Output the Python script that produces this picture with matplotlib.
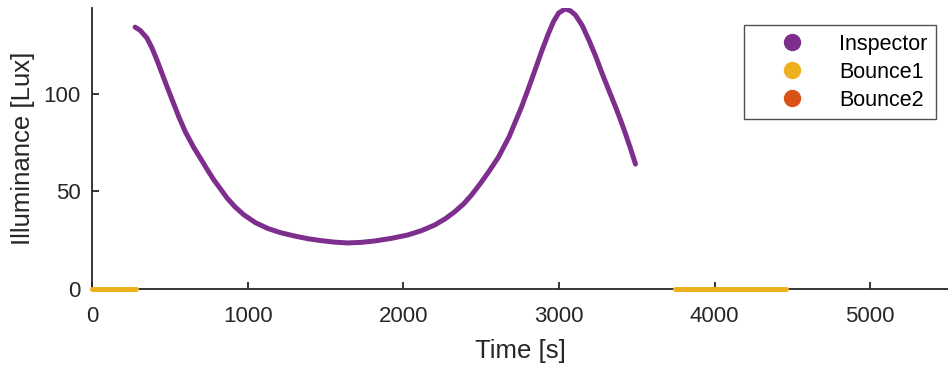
import numpy as np
import matplotlib
matplotlib.use('Agg')
import matplotlib.pyplot as plt
from matplotlib.lines import Line2D

plt.rcParams['font.family'] = ['Liberation Sans', 'DejaVu Sans']

# Inspector illuminance
inspector_t = [277, 310, 353, 385, 417, 482, 557, 600, 654, 708, 740, 782,
               830, 869, 920, 976, 1050, 1127, 1210, 1299, 1385, 1471, 1560,
               1643, 1730, 1815, 1920, 2030, 2120, 2202, 2270, 2331, 2390,
               2439, 2493, 2550, 2611, 2680, 2761, 2805, 2847, 2890, 2933,
               2965, 2998, 3041, 3075, 3105, 3150, 3192, 3235, 3277, 3320,
               3363, 3395, 3428, 3460, 3492]
inspector_lux = [134.2, 132.5, 128.6, 123.6, 117.4, 103.7, 88.4, 80.5, 72.5,
                 65.5, 61.3, 56.0, 50.8, 46.5, 42.0, 38.0, 34.0, 31.1, 28.9,
                 27.2, 25.8, 24.8, 24.0, 23.6, 23.9, 24.6, 25.9, 27.7, 30.0,
                 32.8, 36.0, 39.6, 43.8, 48.2, 53.8, 60.2, 67.5, 78.0, 93.5,
                 103.0, 112.3, 122.0, 131.0, 137.0, 141.4, 143.6, 142.5,
                 140.5, 135.0, 127.7, 119.5, 110.6, 102.0, 93.5, 86.8, 79.5,
                 72.0, 64.0]

# Bounce1 segments (two separate time windows at zero)
bounce1_t = [0, 280, np.nan, 3746, 4460]
bounce1_lux = [0, 0, np.nan, 0, 0]

# Bounce2 has no visible data
bounce2_t = []
bounce2_lux = []

names = ['Inspector', 'Bounce1', 'Bounce2']
colors = ['#7E2F8E', '#EDB120', '#D95319']
x_ticks = [0, 1000, 2000, 3000, 4000, 5000]
y_ticks = [0, 50, 100]

fig = plt.figure(figsize=(9.48, 3.68), dpi=100)
ax = fig.add_axes([92 / 948, 1 - 289 / 368, 856 / 948, 281 / 368])

ax.plot(inspector_t, inspector_lux, color=colors[0], lw=3.6,
        solid_capstyle='round', solid_joinstyle='round', zorder=3)
ax.plot(bounce1_t, bounce1_lux, color=colors[1], lw=3.6,
        solid_capstyle='round', zorder=4, clip_on=False)
ax.plot(bounce2_t, bounce2_lux, color=colors[2], lw=3.6, zorder=2)

ax.set_xlim(0, 5500)
ax.set_ylim(0, 144)
ax.set_xticks(x_ticks)
ax.set_yticks(y_ticks)

for side in ['top', 'right']:
    ax.spines[side].set_visible(False)
for side in ['left', 'bottom']:
    ax.spines[side].set_color('#262626')
    ax.spines[side].set_linewidth(1.3)

ax.tick_params(direction='in', length=5, width=1.3, colors='#262626',
               labelsize=16)
ax.tick_params(axis='x', pad=12)
ax.tick_params(axis='y', pad=8)
ax.set_xlabel('Time [s]', fontsize=18.5, color='#262626', labelpad=9)
ax.set_ylabel('Illuminance [Lux]', fontsize=18.5, color='#262626', labelpad=6)

handles = [Line2D([], [], marker='o', ls='none', markersize=11.5,
                  color=c, label=n) for c, n in zip(colors, names)]
leg = ax.legend(handles=handles, loc='upper right',
                bbox_to_anchor=((936 - 92) / 856, (289 - 25) / 281),
                fontsize=15.5, frameon=True, fancybox=False, edgecolor='#262626',
                handletextpad=0.35, borderpad=0.4, labelspacing=0.33,
                handlelength=3.66, borderaxespad=0)
leg.get_frame().set_linewidth(1.0)

fig.savefig('out.png', dpi=100, facecolor='white')
